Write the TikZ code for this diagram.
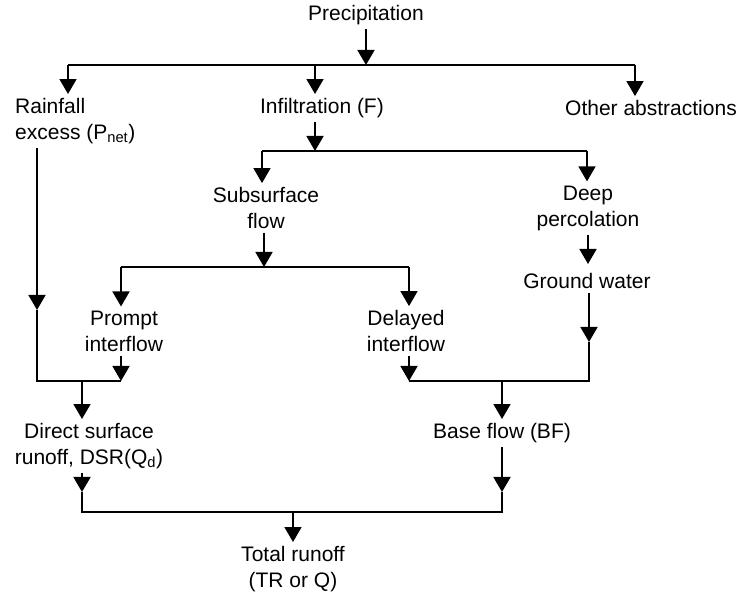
\documentclass[tikz,border=0pt]{standalone}
\usepackage{fontspec}
\setmainfont{Liberation Sans}
\usetikzlibrary{arrows.meta}
\tikzstyle{flowtext} = [
    align=center,
    inner sep=4pt,
    font=\fontsize{21}{26}\selectfont
]
\tikzstyle{joinline} = [line width=1.6pt, line join=miter]
\tikzstyle{arrow} = [joinline, -{Triangle[width=17pt,length=15pt]}]

\begin{document}
\begin{tikzpicture}[x=1pt, y=-1pt]
\useasboundingbox (0,0) rectangle (740,593);

% text of the diagram
\node (precip) [flowtext] at (366,15) {Precipitation};

\node (rain) [flowtext, align=left, anchor=west] at (11,121)
{Rainfall\\excess (P\textsubscript{net})};

\node (infil) [flowtext] at (322,108) {Infiltration (F)};

\node (other) [flowtext] at (651,108) {Other abstractions};

\node (subsurf) [flowtext] at (266,208) {Subsurface\\flow};

\node (deep) [flowtext] at (588,208) {Deep\\percolation};

\node (ground) [flowtext] at (587,281) {Ground water};

\node (prompt) [flowtext] at (124,331) {Prompt\\interflow};

\node (delayed) [flowtext] at (406,331) {Delayed\\interflow};

\node (direct) [flowtext] at (89,446)
{Direct surface\\runoff, DSR(Q\textsubscript{d})};

\node (base) [flowtext] at (502,433) {Base flow (BF)};

\node (total) [flowtext] at (293,569) {Total runoff\\(TR or Q)};

% branch and join points
\coordinate (top) at (366,65);
\coordinate (topl) at (68,65);
\coordinate (topm) at (315,65);
\coordinate (topr) at (635,65);
\coordinate (inf) at (315,151);
\coordinate (infl) at (262,151);
\coordinate (infr) at (587,151);
\coordinate (gwtop) at (588,264);
\coordinate (sub) at (264,267);
\coordinate (subl) at (121,267);
\coordinate (subr) at (409,267);
\coordinate (rainmid) at (37,310);
\coordinate (rainend) at (37,381);
\coordinate (promptend) at (121,381);
\coordinate (dsrtop) at (82,381);
\coordinate (gwmid) at (589,342);
\coordinate (gwend) at (589,381);
\coordinate (delend) at (409,381);
\coordinate (bftop) at (502,381);
\coordinate (dsrmid) at (82,492);
\coordinate (dsrend) at (82,512);
\coordinate (bfmid) at (502,492);
\coordinate (bfend) at (502,512);
\coordinate (tot) at (293,512);

\draw [arrow] (precip) -- (top);
\draw [joinline] (topl) -- (topr);
\draw [arrow] (topl) -- (topl |- rain.north);
\draw [arrow] (topm) -- (topm |- infil.north);
\draw [arrow] (topr) -- (topr |- other.north);

\draw [arrow] (infil.south -| inf) -- (inf);
\draw [joinline] (infl) -- (infr);
\draw [arrow] (infl) -- (infl |- subsurf.north);
\draw [arrow] (infr) -- (infr |- deep.north);

\draw [arrow] (subsurf.south -| sub) -- (sub);
\draw [joinline] (subl) -- (subr);
\draw [arrow] (subl) -- (subl |- prompt.north);
\draw [arrow] (subr) -- (subr |- delayed.north);
\draw [arrow] (deep.south -| gwtop) -- (gwtop);

\draw [arrow] (rain.south -| rainmid) -- (rainmid);
\draw [joinline] (rainmid) -- (rainend) -- (promptend);
\draw [arrow] (prompt.south -| promptend) -- (promptend);
\draw [arrow] (dsrtop) -- (dsrtop |- direct.north);

\draw [arrow] (ground.south -| gwmid) -- (gwmid);
\draw [joinline] (gwmid) -- (gwend) -- (delend);
\draw [arrow] (delayed.south -| delend) -- (delend);
\draw [arrow] (bftop) -- (bftop |- base.north);

\draw [arrow] (direct.south -| dsrmid) -- (dsrmid);
\draw [arrow] (base.south -| bfmid) -- (bfmid);
\draw [joinline] (dsrmid) -- (dsrend) -- (bfend) -- (bfmid);
\draw [arrow] (tot) -- (tot |- total.north);

\end{tikzpicture}
\end{document}
